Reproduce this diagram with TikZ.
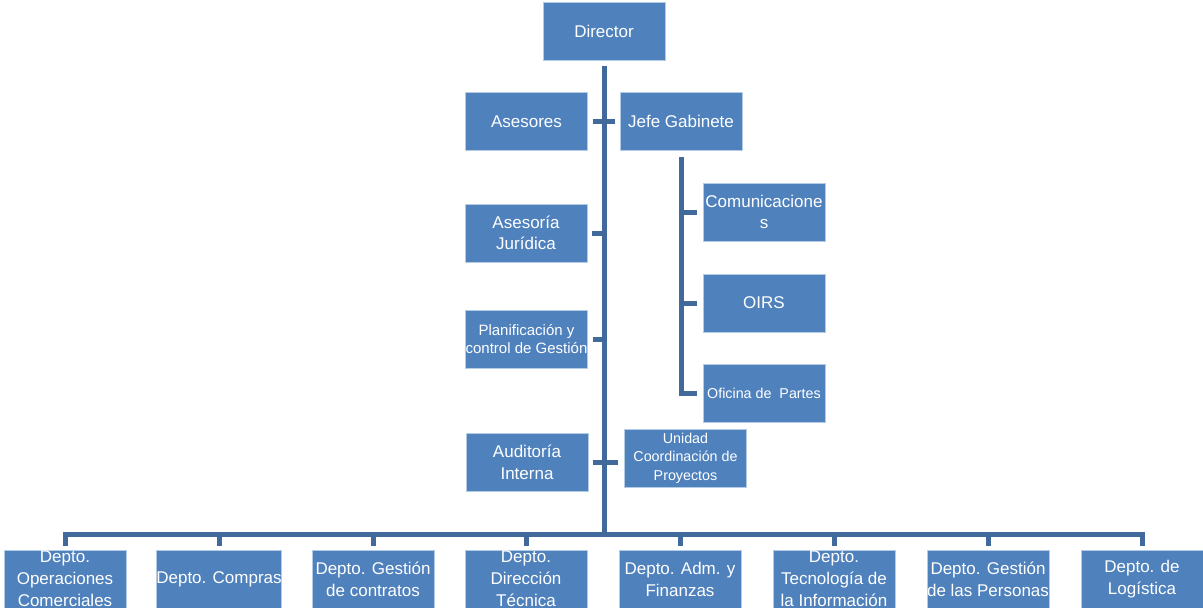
\documentclass[tikz,border=0pt]{standalone}
\usepackage{fontspec}
\setmainfont{Liberation Sans}
\definecolor{boxblue}{HTML}{4F81BD}
\definecolor{linblue}{HTML}{41699C}
\definecolor{boxedge}{HTML}{B4CBE6}
\begin{document}
\begin{tikzpicture}[x=1pt,y=-1pt,
  box/.style={rectangle, fill=boxblue, draw=boxedge, line width=0.8pt, minimum width=122pt, minimum height=58pt, inner sep=0pt, text=white, align=center, font=\fontsize{17}{21.5}\selectfont},
  smallbox/.style={box, font=\fontsize{15}{18.5}\selectfont},
  tinybox/.style={box, font=\fontsize{14.3}{18.3}\selectfont},
  deptbox/.style={box, font=\fontsize{17}{22}\selectfont},
  conn/.style={draw=linblue, line width=5pt, line join=miter}]
\useasboundingbox (0,0) rectangle (1203,608);

% top level
\node[box] (dir) at (604,31.5) {Director};
\node[box] (ases) at (526.5,121.5) {Asesores};
\node[box] (jefe) at (681,121.5) {Jefe Gabinete};
\node[box] (com) at (764,212) {Comunicacione\\s};
\node[box] (oirs) at (764,303) {OIRS};
\node[tinybox] (ofi) at (764,393) {Oficina de \ Partes};
\node[box] (asj) at (526,233) {Asesoría\\Jurídica};
\node[smallbox] (pla) at (526.5,339) {Planificación y\\control de Gestión};
\node[box] (aud) at (527,462.5) {Auditoría\\Interna};
\node[tinybox] (uni) at (685.5,458) {Unidad\\Coordinación de\\Proyectos};

% departments
\node[deptbox] (d1) at (65,579) {Depto.\\Operaciones\\Comerciales};
\node[deptbox] (d2) at (219,579) {Depto. Compras};
\node[deptbox] (d3) at (373,579) {Depto. Gestión\\de contratos};
\node[deptbox] (d4) at (526,579) {Depto.\\Dirección\\Técnica};
\node[deptbox] (d5) at (680,579) {Depto. Adm. y\\Finanzas};
\node[deptbox] (d6) at (834,579) {Depto.\\Tecnología de\\la Información};
\node[deptbox] (d7) at (988,579) {Depto. Gestión\\de las Personas};
\node[deptbox] (d8) at (1142,579) {Depto. de\\Logística};

\coordinate (bar) at (604,534);

% main trunk
\draw[conn] ([yshift=-5pt]dir.south) -- (bar);
% side connectors
\draw[conn] ([xshift=5pt]ases.east) -- ([xshift=-5pt]jefe.west);
\draw[conn] ([xshift=5pt]asj.east) -- (asj.east -| bar);
\draw[conn] ([xshift=5pt]pla.east) -- (pla.east -| bar);
\draw[conn] ([xshift=5pt]aud.east) -- ([xshift=-6pt]aud.east -| uni.west);
% Jefe Gabinete subtree
\draw[conn] ([yshift=-6pt]jefe.south) |- ([xshift=-6pt]ofi.west);
\draw[conn] (jefe.south |- com.west) -- ([xshift=-6pt]com.west);
\draw[conn] (jefe.south |- oirs.west) -- ([xshift=-6pt]oirs.west);
% bottom bar
\draw[conn] ([yshift=4pt]d1.north) |- (bar) -| ([yshift=4pt]d8.north);
\foreach \d in {d2,d3,d4,d5,d6,d7}{
  \draw[conn] ([yshift=4pt]\d.north) -- (\d.north |- bar);
}
\end{tikzpicture}
\end{document}
